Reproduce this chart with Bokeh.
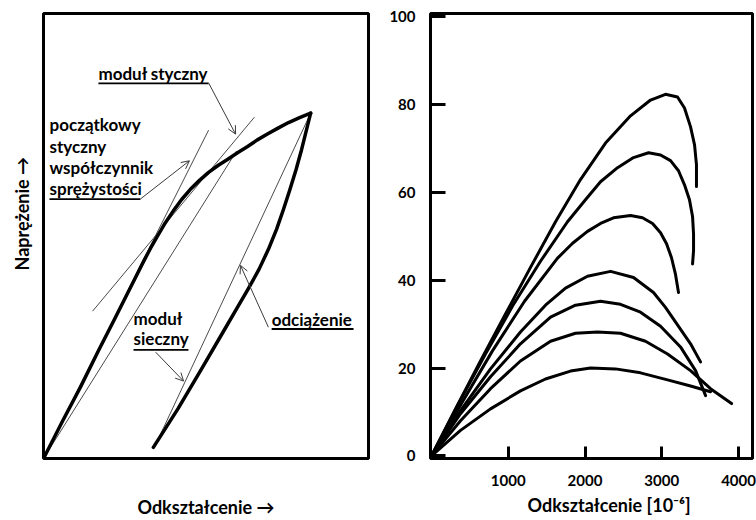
import math
from bokeh.plotting import figure
from bokeh.layouts import row
from bokeh.models import Range1d, Label, Arrow, OpenHead, FixedTicker, Title
from bokeh.embed import file_html
from bokeh.resources import INLINE

FONT = "Lato"

# ---------------- left panel: schematic stress-strain diagram (arbitrary units) -------------
loading_strain = [0, 5.8, 11.4, 16.9, 22.2, 26.8, 30.8, 32.9, 35.1, 37.5, 40.0, 42.5, 45.2, 48.0,
                  50.8, 53.8, 56.6, 59.7, 62.8, 65.8, 68.9, 72.3, 75.4, 78.8, 82.2]
loading_stress = [0, 8.3, 16.1, 24.2, 31.8, 38.5, 44.3, 47.2, 50.0, 53.0, 55.7, 58.2, 60.5, 62.5,
                  64.3, 65.9, 67.2, 68.7, 70.1, 71.6, 72.9, 74.3, 75.5, 76.6, 77.6]
unloading_strain = [82.2, 80.9, 79.4, 77.7, 75.8, 73.8, 71.7, 69.2, 66.3, 62.9, 59.4, 55.8, 48.6, 41.4, 33.8]
unloading_stress = [77.6, 73.8, 69.4, 64.9, 60.4, 55.9, 51.5, 47.0, 42.5, 38.0, 33.6, 29.1, 20.1, 11.2, 2.5]

initial_tangent_strain = [0, 50.8]
initial_tangent_stress = [0, 73.8]
tangent_strain = [15.1, 64.9]
tangent_stress = [33.1, 76.7]
secant_strain = [0, 59.4]
secant_stress = [0, 69.1]
chord_strain = [35.4, 82.2]
chord_stress = [4.5, 77.6]

# ---------------- right panel: measured curves -------------
strain_series = [
    [0, 313, 638, 964, 1290, 1616, 1941, 2267, 2593, 2854, 3048, 3205, 3296, 3375, 3427, 3452, 3452],
    [0, 352, 703, 1056, 1420, 1772, 2006, 2202, 2424, 2632, 2828, 2984, 3114, 3218, 3296, 3361, 3401, 3414, 3414, 3401],
    [0, 404, 794, 1212, 1642, 1838, 2032, 2202, 2371, 2593, 2749, 2880, 2984, 3062, 3127, 3179, 3218],
    [0, 378, 769, 1159, 1485, 1746, 2032, 2333, 2632, 2892, 3048, 3205, 3375, 3505],
    [0, 378, 769, 1159, 1551, 1876, 2202, 2462, 2723, 2984, 3244, 3440, 3571],
    [0, 378, 769, 1159, 1551, 1876, 2163, 2462, 2788, 3075, 3375, 3635, 3909],
    [0, 378, 769, 1159, 1485, 1811, 2072, 2397, 2723, 3075, 3375, 3635],
]
stress_series = [
    [0, 10.7, 21.6, 32.3, 42.9, 53.3, 62.9, 71.2, 77.4, 81.0, 82.3, 81.7, 79.2, 74.9, 70.8, 66.3, 61.3],
    [0, 11.9, 23.2, 34.1, 44.3, 53.3, 58.3, 62.4, 65.6, 67.9, 69.0, 68.5, 67.2, 64.9, 61.7, 58.3, 54.5, 50.5, 46.7, 43.7],
    [0, 12.3, 23.9, 35.2, 45.0, 48.4, 51.1, 52.9, 54.2, 54.7, 54.2, 52.9, 50.8, 48.3, 45.1, 41.3, 37.2],
    [0, 10.3, 19.8, 28.2, 34.3, 38.2, 40.9, 42.0, 40.6, 37.2, 33.8, 29.8, 25.5, 21.4],
    [0, 9.6, 18.0, 25.5, 31.6, 34.3, 35.2, 34.5, 32.7, 29.5, 24.8, 19.4, 13.7],
    [0, 8.0, 15.3, 21.6, 26.1, 27.9, 28.2, 27.9, 26.1, 23.2, 19.4, 15.3, 11.9],
    [0, 5.8, 10.7, 14.8, 17.5, 19.3, 20.0, 19.8, 18.9, 17.3, 15.9, 14.6],
]
y_ticks = [0, 20, 40, 60, 80, 100]
x_ticks = [1000, 2000, 3000, 4000]

TEXT = dict(text_font=FONT, text_font_style="bold", text_color="black")

# ---------------- left figure ----------------
p1 = figure(width=380, height=520, x_range=Range1d(0, 100), y_range=Range1d(0, 100),
            output_backend="svg", toolbar_location=None,
            min_border_left=43, min_border_right=12, min_border_top=13, min_border_bottom=60)
p1.yaxis.visible = False
p1.grid.visible = False
p1.outline_line_color = "black"
p1.outline_line_width = 3

xa = p1.xaxis[0]
xa.ticker = FixedTicker(ticks=[])
xa.axis_line_color = None
xa.major_tick_line_color = None
xa.minor_tick_line_color = None
xa.major_tick_in = 0
xa.major_tick_out = 0
xa.minor_tick_in = 0
xa.minor_tick_out = 0
xa.major_label_standoff = 0
xa.axis_label = "Odkształcenie →"
xa.axis_label_standoff = 37
xa.axis_label_text_font = FONT
xa.axis_label_text_font_style = "bold"
xa.axis_label_text_font_size = "18px"
xa.axis_label_text_color = "black"

THIN = dict(line_color="#4a4a4a", line_width=1)
p1.line(initial_tangent_strain, initial_tangent_stress, **THIN)
p1.line(tangent_strain, tangent_stress, **THIN)
p1.line(secant_strain, secant_stress, **THIN)
p1.line(chord_strain, chord_stress, **THIN)
p1.line(loading_strain, loading_stress, line_color="black", line_width=3.5,
        line_join="round", line_cap="round")
p1.line(unloading_strain, unloading_stress, line_color="black", line_width=3.5,
        line_join="round", line_cap="round")

def txt(p, x, y, s, size="17px"):
    p.add_layout(Label(x=x, y=y, text=s, text_font_size=size, text_baseline="alphabetic",
                       text_align="left", **TEXT))

txt(p1, 16.9, 86.6, "moduł styczny")
txt(p1, 1.85, 75.0, "początkowy")
txt(p1, 1.85, 70.2, "styczny")
txt(p1, 1.85, 65.3, "współczynnik")
txt(p1, 1.85, 60.6, "sprężystości")
txt(p1, 27.7, 31.5, "moduł")
txt(p1, 27.7, 26.9, "sieczny")
txt(p1, 70.2, 31.3, "odciążenie")

UL = dict(line_color="black", line_width=1.8)
p1.line([16.9, 50.8], [84.3, 84.3], **UL)
p1.line([1.85, 29.8], [58.3, 58.3], **UL)
p1.line([27.7, 44.6], [24.4, 24.4], **UL)
p1.line([70.2, 95.4], [29.1, 29.1], **UL)

for (xs, ys, xe, ye) in [(50.8, 84.4, 59.1, 72.9),
                         (29.8, 58.3, 44.9, 66.9),
                         (34.5, 23.9, 43.1, 17.4),
                         (69.2, 29.5, 60.6, 43.4)]:
    p1.add_layout(Arrow(end=OpenHead(size=8, line_width=1, line_color="#3a3a3a"),
                        x_start=xs, y_start=ys, x_end=xe, y_end=ye,
                        line_width=1, line_color="#3a3a3a"))

p1.add_layout(Title(text="Naprężenie →", align="left", offset=188, standoff=18,
                    vertical_align="top", text_font_size="18px", **TEXT), "left")

# ---------------- right figure ----------------
p2 = figure(width=376, height=520, x_range=Range1d(-13, 4182), y_range=Range1d(-0.6, 100.7),
            output_backend="svg", toolbar_location=None,
            min_border_left=50, min_border_right=4, min_border_top=13, min_border_bottom=60)
p2.grid.visible = False
p2.outline_line_color = "black"
p2.outline_line_width = 3

for ax, ticks, tin in [(p2.xaxis[0], x_ticks, 12), (p2.yaxis[0], y_ticks, 15)]:
    ax.ticker = FixedTicker(ticks=ticks)
    ax.axis_line_color = None
    ax.major_tick_in = tin
    ax.major_tick_out = 0
    ax.major_tick_line_width = 3
    ax.major_tick_line_color = "black"
    ax.minor_tick_line_color = None
    ax.major_label_text_font = FONT
    ax.major_label_text_font_style = "bold"
    ax.major_label_text_font_size = "15px"
    ax.major_label_text_color = "black"
p2.xaxis[0].major_label_standoff = 16
p2.yaxis[0].major_label_standoff = 15

for xs, ys in zip(strain_series, stress_series):
    p2.line(xs, ys, line_color="black", line_width=3, line_join="round", line_cap="round")

p2.add_layout(Title(text="Odkształcenie [10⁻⁶]", align="left", offset=97, standoff=7,
                    text_font_size="18px", **TEXT), "below")

layout = row(p1, p2)
open("out.html", "w").write(file_html(layout, INLINE))
